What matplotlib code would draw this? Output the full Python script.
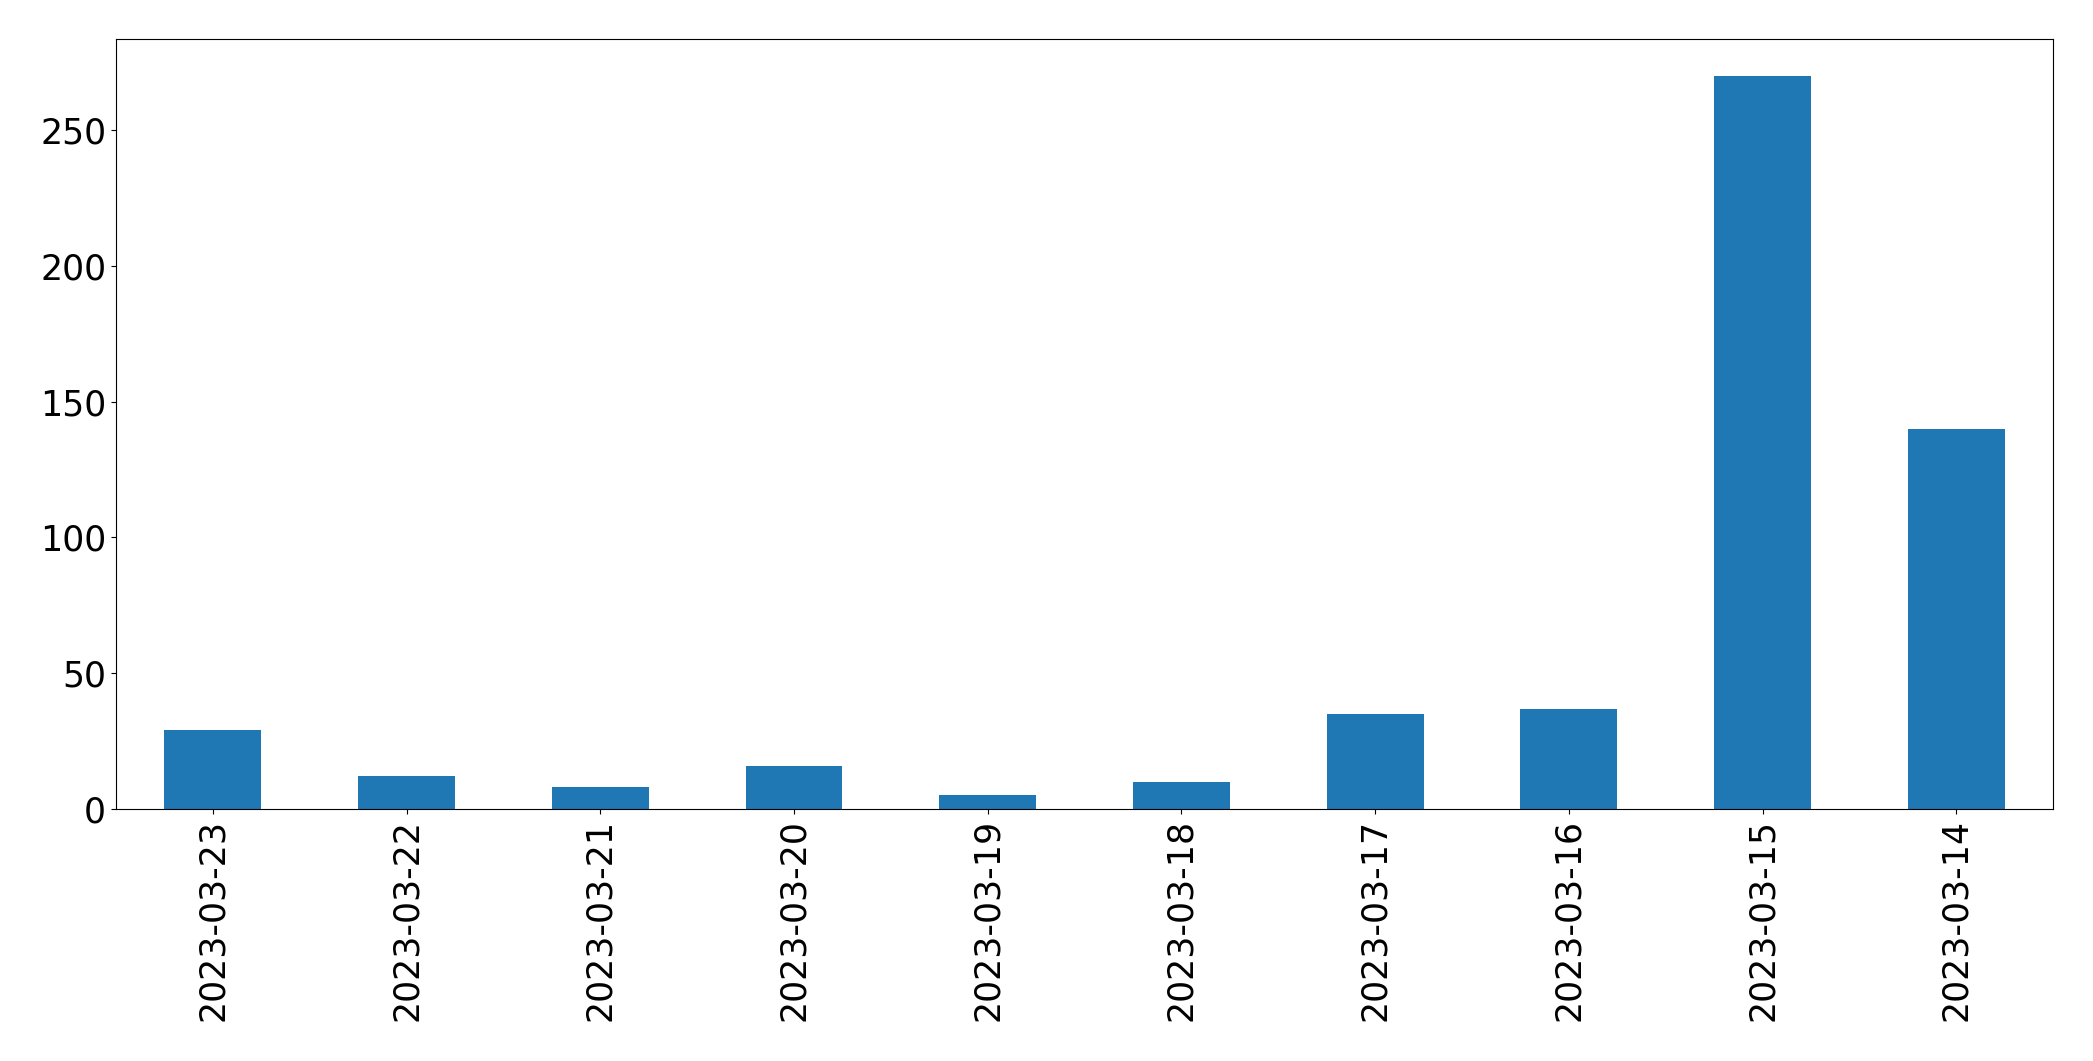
import matplotlib
matplotlib.use("Agg")
import matplotlib.pyplot as plt
import numpy as np

dates = ["2023-03-23", "2023-03-22", "2023-03-21", "2023-03-20", "2023-03-19",
         "2023-03-18", "2023-03-17", "2023-03-16", "2023-03-15", "2023-03-14"]
counts = [29, 12, 8, 16, 5, 10, 35, 37, 270, 140]

fig = plt.figure(figsize=(20.93, 10.61), dpi=100)
ax = fig.add_subplot(111)
fig.subplots_adjust(left=0.0554, right=0.981, top=0.963, bottom=0.2375)

x = np.arange(len(dates))
ax.bar(x, counts, 0.5, color="#1f77b4")
ax.set_xlim(-0.5, len(dates) - 0.5)
ax.set_xticks(x, dates, rotation="vertical")
ax.tick_params(axis="both", labelsize=25)

plt.savefig("out.png", dpi=100)
